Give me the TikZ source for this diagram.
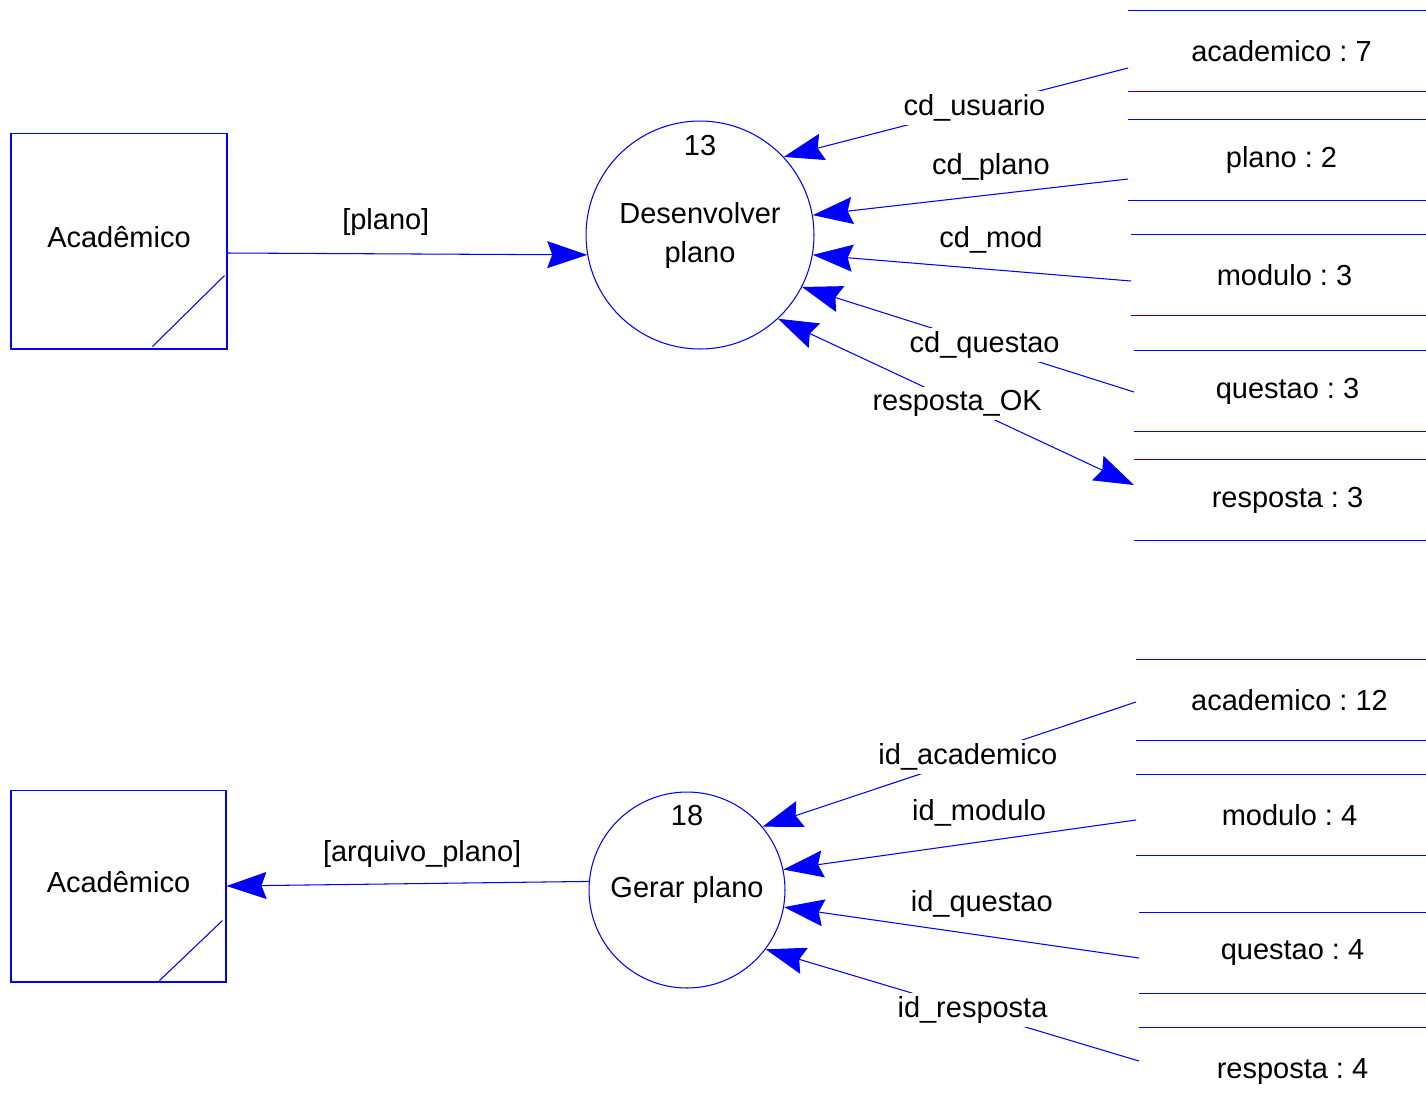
\documentclass[tikz,border=0pt]{standalone}
\usepackage{fontspec}
\setmainfont{Liberation Sans}
\frenchspacing
\usetikzlibrary{arrows.meta,calc,positioning,shapes.geometric}
\tikzset{%
	entity/.style  = {draw=blue, rectangle, text centered},
	process/.style = {draw=blue, circle, align=center, inner sep=1pt},
	store/.style   = {rectangle, minimum width=6.12cm, minimum height=1.6cm, anchor=west, inner sep=0pt},
	flow/.style    = {blue, ->},
	flowboth/.style= {blue, <->},
	dflabel/.style = {text=black, inner sep=2pt},
	dfcut/.style   = {dflabel, fill=white},
	>={Stealth[length=0.8cm, width=0.54cm, inset=0.1cm]},
}
\begin{document}
\begin{tikzpicture}[x=0.02cm, y=-0.02cm, line width=0.6pt, font=\fontsize{16.5}{22.2}\selectfont]
	\useasboundingbox (0,0) rectangle (1426,1110);
	\clip (0,0) rectangle (1426,1110);

	% Desenvolver plano
	\node[entity, minimum width=4.32cm, minimum height=4.32cm, text depth=5pt] (acad1) at (119,241) {Acadêmico};
	\draw[blue] ($(acad1.south east)+(-75,-3)$) -- ($(acad1.south east)+(-3,-74)$);
	\node[process, minimum size=4.56cm] (p13) at (700,235) {Desenvolver\\plano};
	\node (n13) at ($(p13.center)+(0,-89)$) {13};

	\node[store] (s7)  at (1128,51)  {academico : 7};
	\node[store] (s2)  at (1128,160) {plano : 2};
	\node[store] (s3m) at (1131,275) {modulo : 3};
	\node[store] (s3q) at (1134,391) {questao : 3};
	\node[store] (s3r) at (1134,500) {resposta : 3};
	\draw[blue] (s7.north west) -- (s7.north east) (s7.south west) -- (s7.south east);
	\draw[blue] (s2.north west) -- (s2.north east) (s2.south west) -- (s2.south east);
	\draw[blue] (s3m.north west) -- (s3m.north east) (s3m.south west) -- (s3m.south east);
	\draw[blue] (s3q.north west) -- (s3q.north east) (s3q.south west) -- (s3q.south east);
	\draw[blue] (s3r.north west) -- (s3r.north east) (s3r.south west) -- (s3r.south east);

	\draw[flow] ($(acad1.east)+(0,12)$) -- node[dflabel, pos=.44, shift={(0,-32)}] {[plano]} (p13.190);
	\draw[flow] ($(s7.west)+(0,17)$) -- node[dfcut, pos=.446] {cd\_usuario} (p13.43);
	\draw[flow] ($(s2.west)+(0,19)$) -- node[dflabel, pos=.435, shift={(0,-28)}] {cd\_plano} (p13.10);
	\draw[flow] ($(s3m.west)+(0,6)$) -- node[dflabel, pos=.44, shift={(0,-30)}] {cd\_mod} (p13.-10);
	\draw[flow] ($(s3q.west)+(0,1)$) -- node[dfcut, pos=.45] {cd\_questao} (p13.-27);
	\draw[flowboth] (p13.-47.5) -- node[dfcut, pos=.503, shift={(0,1)}] {resposta\_OK} ($(s3r.west)+(0,-15)$);

	% Gerar plano
	\node[entity, minimum width=4.3cm, minimum height=3.84cm, text depth=4.5pt] (acad2) at (118.5,886) {Acadêmico};
	\draw[blue] ($(acad2.south east)+(-67,-2)$) -- ($(acad2.south east)+(-4,-62)$);
	\node[process, minimum size=3.92cm] (p18) at (687,890) {Gerar plano};
	\node (n18) at ($(p18.center)+(0,-74)$) {18};

	\node[store] (s12) at (1136,700)  {academico : 12};
	\node[store] (s4m) at (1136,815)  {modulo : 4};
	\node[store] (s4q) at (1139,953)  {questao : 4};
	\node[store, minimum height=1.76cm] (s4r) at (1139,1072) {resposta : 4};
	\draw[blue] (s12.north west) -- (s12.north east) (s12.south west) -- (s12.south east);
	\draw[blue] (s4m.north west) -- (s4m.north east) (s4m.south west) -- (s4m.south east);
	\draw[blue] (s4q.north west) -- (s4q.north east) (s4q.south west) -- (s4q.south east);
	\draw[blue] (s4r.north west) -- (s4r.north east);

	\draw[flow] (p18.175) -- node[dflabel, pos=.46, shift={(0,-30)}] {[arquivo\_plano]} (acad2.east);
	\draw[flow] ($(s12.west)+(0,2)$) -- node[dfcut, pos=.45, shift={(0,-1)}] {id\_academico} (p18.40);
	\draw[flow] ($(s4m.west)+(0,5)$) -- node[dflabel, pos=.445, shift={(0,-29)}] {id\_modulo} (p18.12);
	\draw[flow] ($(s4q.west)+(0,5)$) -- node[dflabel, pos=.443, shift={(0,-31)}] {id\_questao} (p18.-10);
	\draw[flow] ($(s4r.west)+(0,-11)$) -- node[dfcut, pos=.446, shift={(0,-1)}] {id\_resposta} (p18.-37);
\end{tikzpicture}
\end{document}
